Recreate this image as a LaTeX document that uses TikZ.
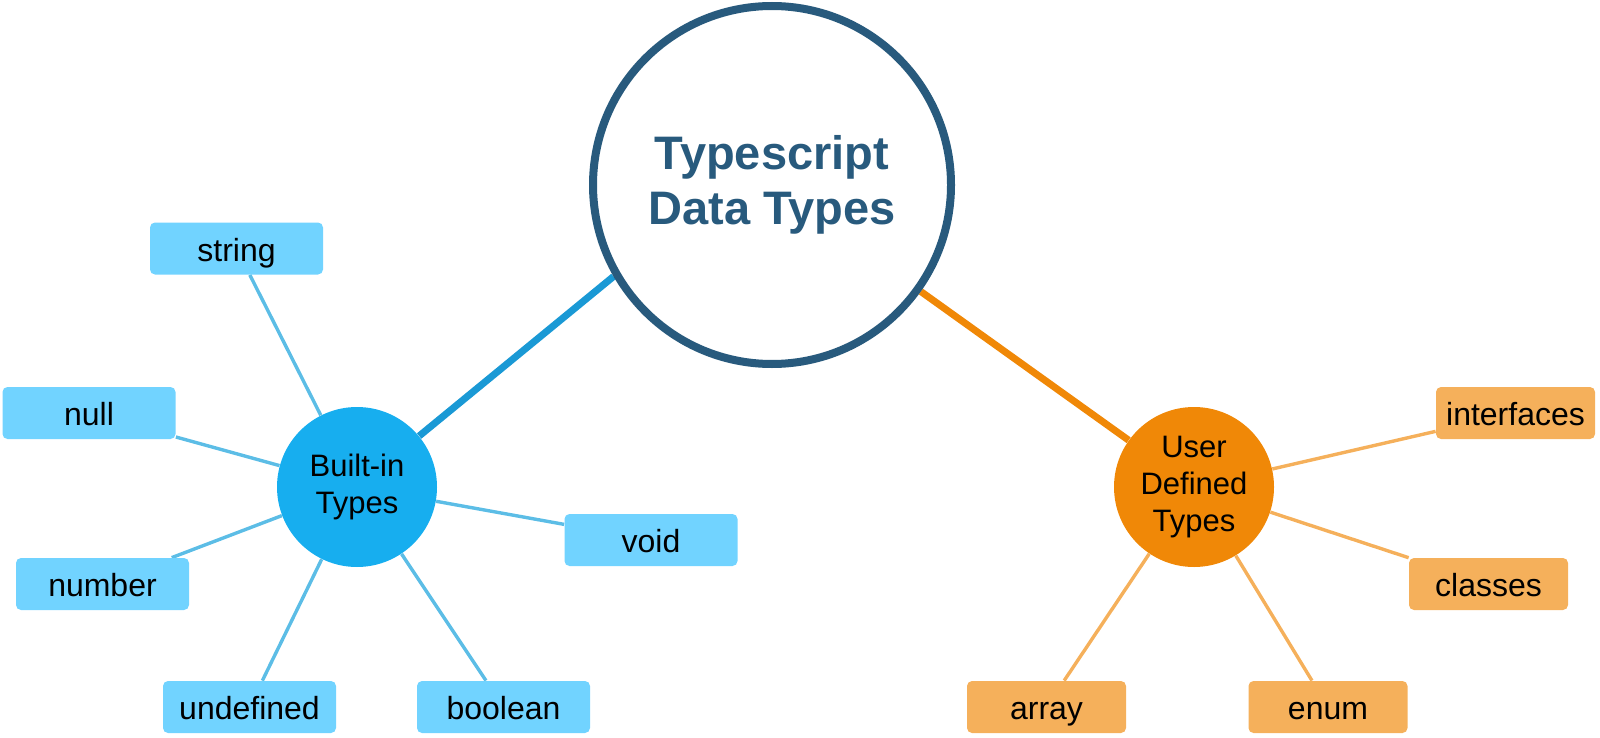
\documentclass[tikz,border=0pt]{standalone}
\usepackage{fontspec}
\setmainfont{Liberation Sans}
\usetikzlibrary{backgrounds}

\definecolor{tsborde}{HTML}{285A7D}
\definecolor{bifondo}{HTML}{17AEEF}
\definecolor{bicaja}{HTML}{71D3FF}
\definecolor{bilinea}{HTML}{5CBDE6}
\definecolor{bigrueso}{HTML}{1A99D5}
\definecolor{udfondo}{HTML}{F08807}
\definecolor{udcaja}{HTML}{F5B05B}

\begin{document}
\begin{tikzpicture}[x=0.5pt, y=-0.5pt,
    raiz/.style={circle, draw=tsborde, line width=4pt, fill=white, minimum size=179pt,
      align=center, font=\fontsize{23.5}{27.5}\selectfont\bfseries, text=tsborde},
    rama/.style={circle, minimum size=80pt, inner sep=0pt, align=center,
      font=\fontsize{15.5}{18.5}\selectfont},
    caja/.style={rounded corners=2.5pt, minimum height=26pt, inner sep=0pt,
      text height=12.5pt, text depth=0pt, font=\fontsize{16}{19}\selectfont},
    cajabi/.style={caja, fill=bicaja, minimum width=86.5pt},
    cajaud/.style={caja, fill=udcaja, minimum width=79.5pt}]
    \useasboundingbox (0, 0) rectangle (1600, 738);

    % Nodo central
    \node[raiz] (ts) at (772, 185) {Typescript\\Data Types};

    % Ramas principales
    \node[rama, fill=bifondo] (bi) at (357, 487) {Built-in\\Types};
    \node[rama, fill=udfondo] (ud) at (1194, 487) {User\\Defined\\Types};

    % Tipos incorporados
    \node[cajabi] (string) at (236.5, 248.5) {string};
    \node[cajabi] (null) at (89, 413) {null};
    \node[cajabi] (number) at (102.5, 584) {number};
    \node[cajabi] (undefined) at (249.5, 707) {undefined};
    \node[cajabi] (boolean) at (503.5, 707) {boolean};
    \node[cajabi] (void) at (651, 540) {void};

    % Tipos definidos por el usuario
    \node[cajaud] (interfaces) at (1515.5, 413) {interfaces};
    \node[cajaud] (classes) at (1488.5, 584) {classes};
    \node[cajaud] (array) at (1046.5, 707) {array};
    \node[cajaud] (enum) at (1328, 707) {enum};

    % Conectores
    \begin{scope}[on background layer]
      \draw[bigrueso, line width=3.5pt] (bi) -- (ts.210);
      \draw[udfondo, line width=3.5pt] (ts) -- (ud);
      \foreach \t in {string, null, number, undefined, boolean, void}
        \draw[bilinea, line width=1.7pt] (bi) -- (\t);
      \foreach \t in {interfaces, classes, array, enum}
        \draw[udcaja, line width=1.7pt] (ud) -- (\t);
    \end{scope}
  \end{tikzpicture}
\end{document}
